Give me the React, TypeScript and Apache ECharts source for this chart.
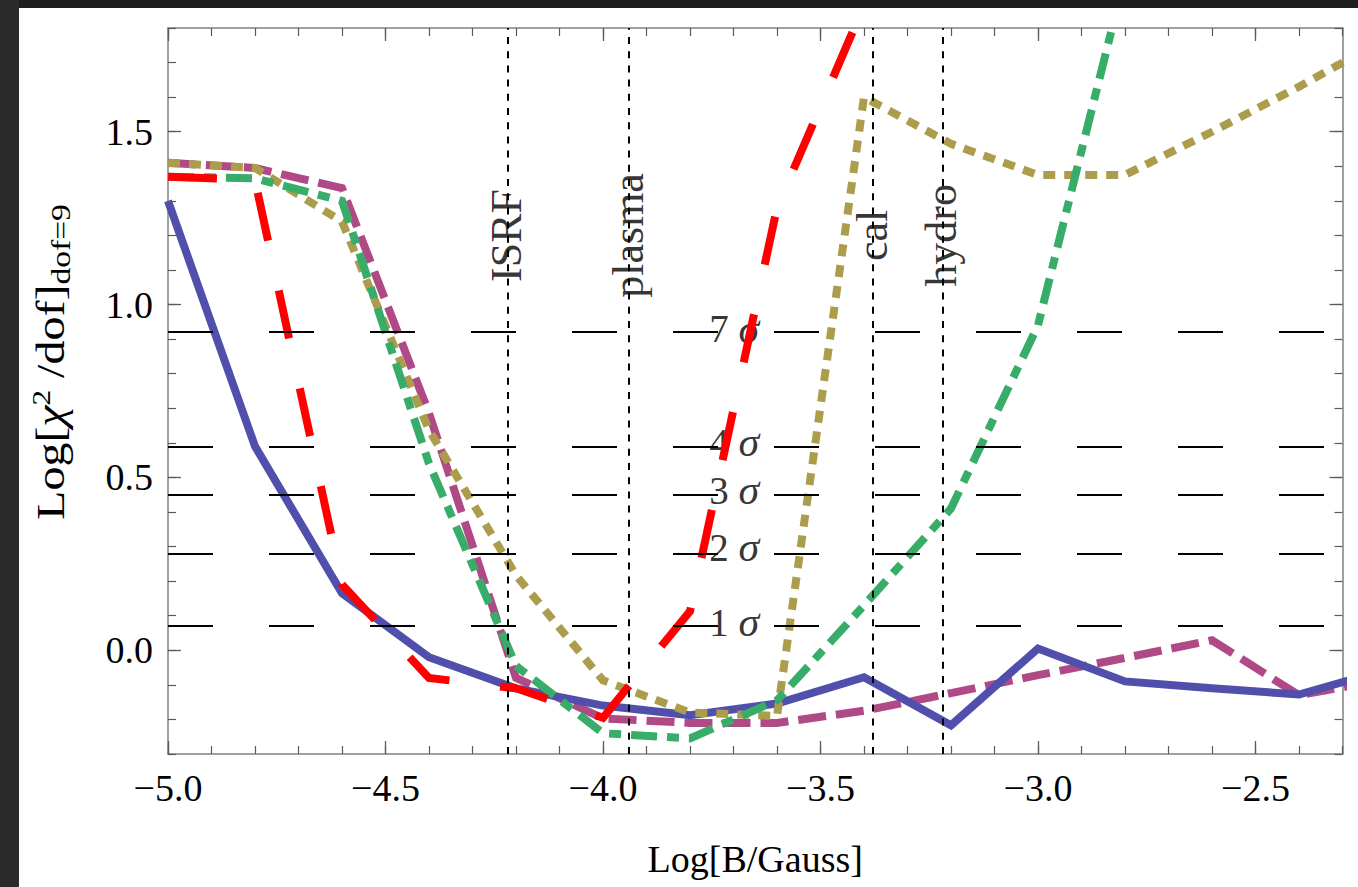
import React, { useEffect, useRef } from 'react';
import * as echarts from 'echarts';

// ---------- data ----------
const xValues = [-5.0, -4.8, -4.6, -4.4, -4.2, -4.0, -3.8, -3.6, -3.4, -3.2, -3.0, -2.8, -2.6, -2.4, -2.2];
const blueSolid = [1.30, 0.59, 0.165, -0.02, -0.11, -0.16, -0.188, -0.154, -0.078, -0.217, 0.005, -0.09, -0.11, -0.128, -0.056];
const redLongDash = [1.37, 1.36, 0.19, -0.08, -0.11, -0.195, 0.113, 1.28, 1.865];
const purpleDashed = [1.41, 1.395, 1.337, 0.686, -0.08, -0.197, -0.21, -0.21, -0.175, -0.124, -0.072, -0.022, 0.029, -0.13, -0.084];
const greenDotDashed = [1.37, 1.365, 1.30, 0.54, -0.045, -0.24, -0.255, -0.145, 0.13, 0.41, 0.94, 1.95];
const oliveDotted = [1.41, 1.395, 1.24, 0.637, 0.217, -0.087, -0.18, -0.19, 1.60, 1.465, 1.375, 1.375, 1.50, 1.63, 1.77];

const sigmaLevels = [0.915, 0.588, 0.449, 0.284, 0.066];
const sigmaNames = ['7', '4', '3', '2', '1'];
const sigmaLabelX = -3.64;

const scaleNames = ['ISRF', 'plasma', 'cal', 'hydro'];
const scaleValues = [-4.222, -3.9425, -3.381, -3.222];
const scaleLabelY = 1.2;

const xMajorTicks = [-5.0, -4.5, -4.0, -3.5, -3.0, -2.5];
const yMajorTicks = [0.0, 0.5, 1.0, 1.5];
const xMin = -5.0;
const xMax = -2.3;
const yMin = -0.3;
const yMax = 1.8;

const FONT = '"Liberation Serif", "Times New Roman", Times, serif';
const AXIS_GRAY = '#808080';
const TICK_GRAY = '#5a5a5a';

const pairs = (arr: number[]) => arr.map((v, i) => [xValues[i], v]);
const fmt = (v: number) => (v < 0 ? '\u2212' : '') + Math.abs(v).toFixed(1);

function majorAxis(position: string, isX: boolean, withLabels: boolean, ticks: number[]) {
  const a: any = {
    type: 'value',
    position,
    min: isX ? xMin : yMin,
    max: isX ? xMax : yMax,
    axisLine: { show: true, onZero: false, lineStyle: { color: AXIS_GRAY, width: 1.5 } },
    axisTick: { show: true, inside: true, length: 13, customValues: ticks, lineStyle: { color: TICK_GRAY, width: 1.3 } },
    axisLabel: withLabels
      ? { show: true, customValues: ticks, formatter: fmt, margin: 15, color: '#000', fontSize: 38, fontFamily: FONT }
      : { show: false },
    splitLine: { show: false },
    minorTick: { show: false },
  };
  return a;
}

function minorAxis(position: string, isX: boolean) {
  return {
    type: 'value',
    position,
    min: isX ? xMin : yMin,
    max: isX ? xMax : yMax,
    interval: 0.1,
    axisLine: { show: false, onZero: false },
    axisTick: { show: true, inside: true, length: 8, lineStyle: { color: TICK_GRAY, width: 1.2 } },
    axisLabel: { show: false },
    splitLine: { show: false },
  } as any;
}

export default function App() {
  const ref = useRef<HTMLDivElement>(null);

  useEffect(() => {
    if (!ref.current) return;
    const chart = echarts.init(ref.current, undefined, { renderer: 'svg' });

    const xMajor = majorAxis('bottom', true, true, xMajorTicks);
    xMajor.name = 'Log[B/Gauss]';
    xMajor.nameLocation = 'middle';
    xMajor.nameGap = 86;
    xMajor.nameTextStyle = { color: '#000', fontSize: 38, fontFamily: FONT };

    const lineSeries = (name: string, arr: number[], color: string, type: any) => ({
      type: 'line',
      name,
      data: pairs(arr),
      showSymbol: false,
      symbol: 'none',
      xAxisIndex: 0,
      yAxisIndex: 0,
      lineStyle: { color, width: 8, type, cap: 'butt', join: 'miter' },
      silent: true,
      z: 3,
    });

    const option: any = {
      animation: false,
      backgroundColor: '#ffffff',
      grid: { left: 168, top: 28, width: 1174.5, height: 726, containLabel: false, outerBoundsMode: 'none' },
      xAxis: [xMajor, minorAxis('bottom', true), majorAxis('top', true, false, xMajorTicks), minorAxis('top', true)],
      yAxis: [majorAxis('left', false, true, yMajorTicks), minorAxis('left', false), majorAxis('right', false, false, yMajorTicks), minorAxis('right', false)],
      series: [
        {
          type: 'scatter',
          name: 'sigma',
          xAxisIndex: 0,
          yAxisIndex: 0,
          symbolSize: 1,
          itemStyle: { color: 'rgba(0,0,0,0)' },
          silent: true,
          z: 2,
          data: sigmaLevels.map((y, i) => ({ value: [sigmaLabelX, y], name: sigmaNames[i] })),
          label: {
            show: true,
            position: 'left',
            distance: 0,
            offset: [0, -5],
            color: '#000',
            fontSize: 39,
            fontFamily: FONT,
            formatter: (p: any) => p.name + ' {s|\u03C3}',
            rich: { s: { fontSize: 42, fontStyle: 'italic', fontFamily: FONT, color: '#000' } },
          },
          markLine: {
            silent: true,
            symbol: 'none',
            label: { show: false },
            lineStyle: { color: '#000', width: 1.8, type: [45, 56] },
            data: sigmaLevels.map((y) => ({ yAxis: y })),
          },
        },
        {
          type: 'scatter',
          name: 'scales',
          xAxisIndex: 0,
          yAxisIndex: 0,
          symbolSize: 1,
          itemStyle: { color: 'rgba(0,0,0,0)' },
          silent: true,
          z: 2,
          data: scaleValues.map((x, i) => ({ value: [x, scaleLabelY], name: scaleNames[i] })),
          label: {
            show: true,
            position: 'inside',
            rotate: 90,
            color: '#000',
            fontSize: 44,
            fontFamily: FONT,
            formatter: '{b}',
          },
          markLine: {
            silent: true,
            symbol: 'none',
            label: { show: false },
            lineStyle: { color: '#000', width: 2, type: [7, 7.2] },
            data: scaleValues.map((x) => ({ xAxis: x })),
          },
        },
        lineSeries('purple', purpleDashed, '#B04A86', [28, 10]),
        lineSeries('blue', blueSolid, '#5050AC', 'solid'),
        lineSeries('olive', oliveDotted, '#AC9D4C', [12, 9]),
        lineSeries('green', greenDotDashed, '#38AD69', [26, 10, 12, 10]),
        lineSeries('red', redLongDash, '#FF0000', [49, 51]),
      ],
      graphic: [
        { type: 'rect', silent: true, z: 100, shape: { x: 0, y: 0, width: 1358, height: 8 }, style: { fill: '#1e1e1e' } },
        { type: 'rect', silent: true, z: 100, shape: { x: 0, y: 0, width: 19, height: 887 }, style: { fill: '#2b2b2b' } },
        {
          type: 'text',
          silent: true,
          z: 100,
          x: 51,
          y: 362,
          rotation: Math.PI / 2,
          scaleX: 1.2,
          style: {
            text: '{m|Log[}{c|\u03C7}{p|2}{m| /dof]}{b|dof=9}',
            align: 'center',
            verticalAlign: 'middle',
            textAlign: 'center',
            textVerticalAlign: 'middle',
            fill: '#000',
            fontSize: 40,
            fontFamily: FONT,
            rich: {
              m: { fontSize: 40, fontFamily: FONT, fill: '#000', color: '#000' },
              c: { fontSize: 40, fontFamily: FONT, fontStyle: 'italic', fill: '#000', color: '#000' },
              p: { fontSize: 26, fontFamily: FONT, verticalAlign: 'top', padding: [0, 0, 20, 0], fill: '#000', color: '#000' },
              b: { fontSize: 28, fontFamily: FONT, verticalAlign: 'bottom', padding: [18, 0, 0, 0], fill: '#000', color: '#000' },
            },
          },
        },
      ],
    };

    chart.setOption(option);
    return () => chart.dispose();
  }, []);

  return <div ref={ref} style={{ position: 'fixed', left: 0, top: 0, width: 1358, height: 887 }} />;
}
